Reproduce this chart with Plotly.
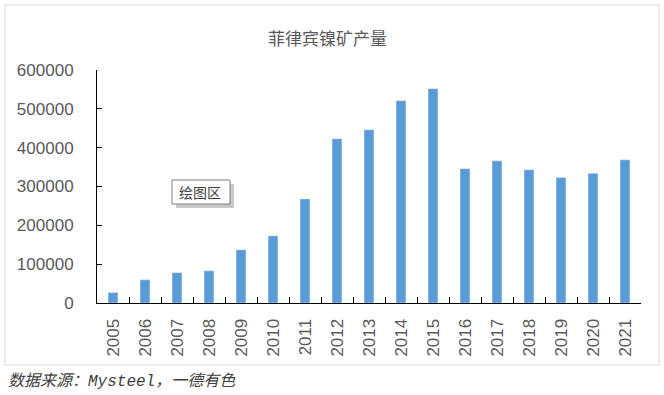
import plotly.graph_objects as go

years = [str(y) for y in range(2005, 2022)]
output = [27000, 60000, 78000, 83000, 137000, 173000, 268000, 423000, 446000,
          521000, 552000, 346000, 366000, 343000, 323000, 334000, 369000]
y_ticks = [0, 100000, 200000, 300000, 400000, 500000, 600000]

title_text = "菲律宾镍矿产量"
source_text = "数据来源：Mysteel，一德有色"
tip_text = "绘图区"

W, H = 664, 395
L, R, T, B = 97, 641, 70, 303

def px(x):
    return (x - L) / (R - L)

def py(y):
    return (B - y) / (B - T)

fig = go.Figure(go.Bar(x=years, y=output, marker_color="#5B9BD5", width=0.31))

fig.update_layout(
    width=W, height=H,
    margin=dict(l=L, r=W - R, t=T, b=H - B, pad=0),
    paper_bgcolor="white", plot_bgcolor="white",
    showlegend=False,
    font=dict(family="Liberation Sans, Noto Sans CJK SC", color="#595959"),
)
fig.update_yaxes(range=[0, 600000], tickvals=y_ticks, ticktext=[str(v) for v in y_ticks],
                 showgrid=False, showline=True, linecolor="black", linewidth=1,
                 ticks="inside", ticklen=5, tickcolor="black", ticklabelstandoff=19,
                 tickfont=dict(size=17, color="#595959"), zeroline=False)
fig.update_xaxes(type="category", showgrid=False, showline=True, linecolor="black", linewidth=1,
                 ticks="inside", tickson="boundaries", ticklen=6, tickcolor="black",
                 tickangle=-90, ticklabelstandoff=8, tickfont=dict(size=17, color="#595959"))

# outer border
fig.add_shape(type="rect", xref="paper", yref="paper",
              x0=px(5), x1=px(659), y0=py(365), y1=py(5),
              line=dict(color="#D9D9D9", width=1), fillcolor="rgba(0,0,0,0)", layer="below")
# tooltip shadow and box
fig.add_shape(type="rect", xref="paper", yref="paper",
              x0=px(176), x1=px(234), y0=py(208), y1=py(184),
              line=dict(width=0), fillcolor="#C8C8C8")
fig.add_shape(type="rect", xref="paper", yref="paper",
              x0=px(172), x1=px(230), y0=py(204), y1=py(180),
              line=dict(color="#7F7F7F", width=1), fillcolor="white")

fig.add_annotation(text=title_text, xref="paper", yref="paper", x=px(327), y=py(37),
                   xanchor="center", yanchor="middle", showarrow=False,
                   font=dict(size=17, color="#595959", family="Noto Sans CJK SC"))
fig.add_annotation(text=tip_text, xref="paper", yref="paper", x=px(177), y=py(192),
                   xanchor="left", yanchor="middle", showarrow=False,
                   font=dict(size=14, color="#404040", family="Noto Sans CJK SC"))
fig.add_annotation(text=source_text, xref="paper", yref="paper", x=px(6), y=py(381),
                   xanchor="left", yanchor="middle", showarrow=False,
                   font=dict(size=16, color="#404040", family="Liberation Mono, Noto Sans CJK SC",
                             style="italic"))

fig.write_html("out.html", config={"displayModeBar": False},
               post_script="document.body.style.margin='0';")
